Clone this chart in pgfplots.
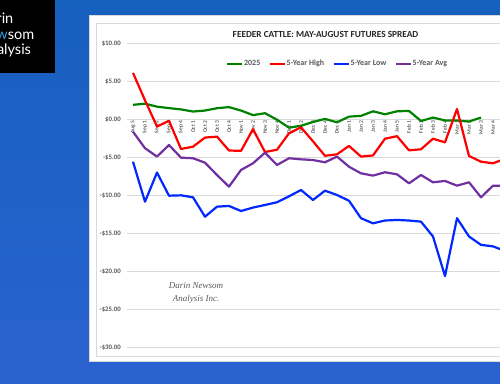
\documentclass[border=0pt]{standalone}
\usepackage{pgfplots}
\pgfplotsset{compat=1.18}
\usepackage{fontspec}
\setmainfont{Carlito}
\newfontfamily\logofont{Lato}
\newfontfamily\wmfont{Liberation Serif}
\definecolor{bgtop}{RGB}{22,96,190}
\definecolor{bgbot}{RGB}{42,98,208}
\definecolor{logoblue}{RGB}{45,160,230}
\definecolor{cgreen}{RGB}{0,130,0}
\definecolor{cred}{RGB}{255,0,0}
\definecolor{cblue}{RGB}{0,40,255}
\definecolor{cpurple}{RGB}{112,48,160}
\definecolor{gridc}{RGB}{217,217,217}
\definecolor{labc}{RGB}{89,89,89}
\definecolor{titc}{RGB}{38,38,38}
\begin{document}
\begin{tikzpicture}
\useasboundingbox (0pt,0pt) rectangle (500pt,383pt);
\clip (0pt,0pt) rectangle (500pt,383pt);
\shade[top color=bgtop, bottom color=bgbot] (0pt,0pt) rectangle (500pt,383pt);
\fill[black] (0pt,310pt) rectangle (55pt,383pt);
\node[anchor=base east, inner sep=0pt, text=white, font=\logofont\fontsize{14.5}{15}\selectfont] at (13.5pt,359pt) {Darin};
\node[anchor=base east, inner sep=0pt, text=white, font=\logofont\fontsize{14.5}{15}\selectfont] at (34.5pt,343.7pt) {{\color{logoblue}New}som};
\node[anchor=base east, inner sep=0pt, text=white, font=\logofont\fontsize{14.5}{15}\selectfont] at (31.2pt,328pt) {Analysis};
\filldraw[fill=white, draw=gridc] (89pt,22pt) rectangle (530pt,368pt);
\draw[gridc] (96.5pt,27pt) rectangle (530pt,360pt);
\node[font=\bfseries\fontsize{9.3}{10}\selectfont, text=titc] at (325.5pt,349pt) {FEEDER CATTLE: MAY-AUGUST FUTURES SPREAD};
\begin{axis}[
  at={(133pt,263.7pt)}, anchor=origin,
  scale only axis, width=384pt, height=304.4pt,
  xmin=-0.5, xmax=31.5, ymin=-30, ymax=10,
  axis x line=middle, axis y line=left,
  axis line style={draw=none},
  every inner x axis line/.append style={-},
  every outer y axis line/.append style={-},
  hide obscured x ticks=false,
  ytick={-30,-25,...,10},
  yticklabels={-\$30.00,-\$25.00,-\$20.00,-\$15.00,-\$10.00,-\$5.00,\$0.00,\$5.00,\$10.00},
  xtick={0,...,30},
  xticklabels={Aug 5,Sep 1,Sep 2,Sep 3,Sep 4,Oct 1,Oct 2,Oct 3,Oct 4,Nov 1,Nov 2,Nov 3,Nov 4,Dec 1,Dec 2,Dec 3,Dec 4,Dec 5,Jan 1,Jan 2,Jan 3,Jan 4,Jan 5,Feb 1,Feb 2,Feb 3,Feb 4,Mar 1,Mar 2,Mar 3,Mar 4},
  major tick length=0pt,
  ymajorgrids, grid style={color=gridc, line width=0.8pt},
  xticklabel style={rotate=90, anchor=east, font=\fontsize{5.5}{6}\selectfont, text=titc, inner sep=1.5pt},
  yticklabel style={font=\bfseries\fontsize{6.8}{7}\selectfont, text=labc, inner sep=0pt, xshift=-6pt},
  legend columns=4,
  legend style={at={(0.547,0.932)}, anchor=center, draw=none, fill=none,
    font=\bfseries\fontsize{8}{9}\selectfont, text=labc, inner sep=0pt,
    nodes={inner sep=0.6pt},
    /tikz/every even column/.append style={column sep=8pt}},
  legend image code/.code={\draw[#1] (0pt,0pt) -- (15pt,0pt);},
  every axis plot/.append style={line width=2.2pt, line join=round, mark=none},
]
\addplot[cgreen] coordinates {(0,1.9)(1,2.05)(2,1.66)(3,1.47)(4,1.3)(5,1.02)(6,1.15)(7,1.46)(8,1.6)(9,1.15)(10,0.55)(11,0.8)(12,-0.05)(13,-1.1)(14,-0.85)(15,-0.35)(16,0.05)(17,-0.4)(18,0.35)(19,0.45)(20,1.05)(21,0.66)(22,1.05)(23,1.1)(24,-0.22)(25,0.23)(26,-0.15)(27,-0.15)(28,-0.3)(29,0.23)};
\addlegendentry{2025}
\addplot[cred] coordinates {(0,6.1)(1,2.5)(2,-0.95)(3,-0.2)(4,-3.9)(5,-3.6)(6,-2.4)(7,-2.28)(8,-4.1)(9,-4.15)(10,-1.3)(11,-4.3)(12,-4.0)(13,-1.84)(14,-1.05)(15,-2.9)(16,-4.8)(17,-4.6)(18,-3.5)(19,-4.9)(20,-4.75)(21,-2.55)(22,-2.22)(23,-4.08)(24,-3.94)(25,-2.55)(26,-3.03)(27,1.35)(28,-4.82)(29,-5.57)(30,-5.78)(31,-5.2)};
\addlegendentry{5-Year High}
\addplot[cblue] coordinates {(0,-5.57)(1,-10.83)(2,-7.0)(3,-10.04)(4,-9.99)(5,-10.25)(6,-12.8)(7,-11.48)(8,-11.39)(9,-12.05)(10,-11.6)(11,-11.26)(12,-10.9)(13,-10.12)(14,-9.29)(15,-10.6)(16,-9.38)(17,-9.95)(18,-10.7)(19,-13.0)(20,-13.67)(21,-13.3)(22,-13.23)(23,-13.3)(24,-13.45)(25,-15.4)(26,-20.6)(27,-13.0)(28,-15.4)(29,-16.5)(30,-16.7)(31,-17.3)};
\addlegendentry{5-Year Low}
\addplot[cpurple] coordinates {(0,-1.63)(1,-3.8)(2,-4.9)(3,-3.38)(4,-5.04)(5,-5.12)(6,-5.7)(7,-7.32)(8,-8.85)(9,-6.66)(10,-5.78)(11,-4.39)(12,-6.0)(13,-5.12)(14,-5.26)(15,-5.35)(16,-5.65)(17,-4.9)(18,-6.23)(19,-7.1)(20,-7.4)(21,-6.96)(22,-7.23)(23,-8.41)(24,-7.32)(25,-8.28)(26,-8.1)(27,-8.72)(28,-8.28)(29,-10.25)(30,-8.72)(31,-8.75)};
\addlegendentry{5-Year Avg}
\end{axis}
\node[font=\wmfont\itshape\fontsize{9}{10}\selectfont, text=labc, align=center, inner sep=0pt] at (196pt,90pt) {Darin Newsom\\[3pt]Analysis Inc.};
\end{tikzpicture}
\end{document}
